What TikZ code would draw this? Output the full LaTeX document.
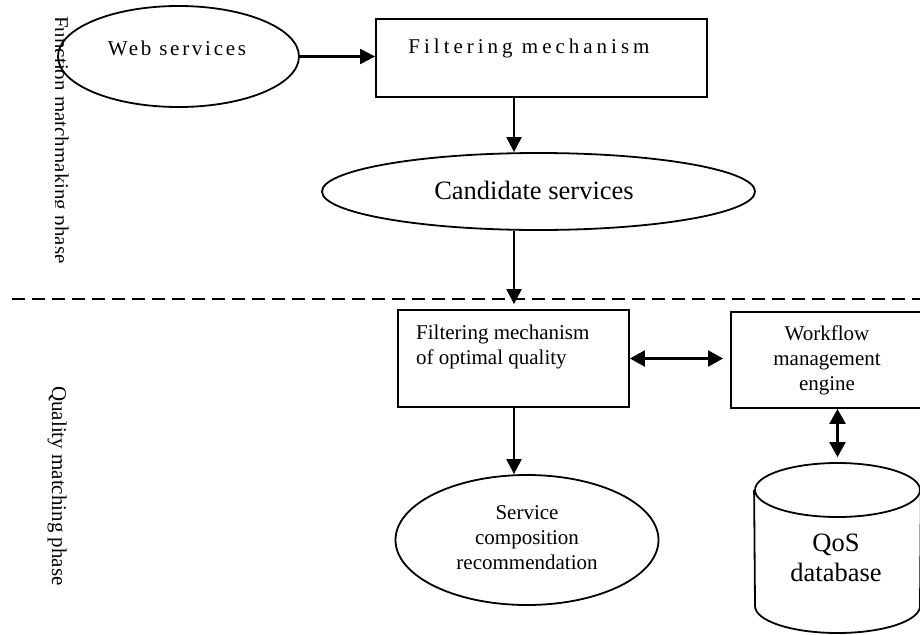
\documentclass[tikz,border=0pt]{standalone}
\usepackage{fontspec}
\setmainfont{Liberation Serif}
\newfontfamily\spacedA[LetterSpace=13]{Liberation Serif}
\newfontfamily\spacedB[LetterSpace=19]{Liberation Serif}
\usetikzlibrary{arrows.meta,shapes.geometric}

\begin{document}
\begin{tikzpicture}[x=1pt,y=-1pt,
  shapeline/.style={draw, line width=1.8pt, inner sep=0pt},
  oval/.style={shapeline, ellipse},
  boxnode/.style={shapeline, rectangle},
  flow/.style={line width=2.2pt, -{Triangle[length=15pt,width=15pt]}},
  both/.style={line width=2.2pt, {Triangle[length=15pt,width=16pt]}-{Triangle[length=15pt,width=16pt]}},
  plain/.style={font=\fontsize{21}{25}\selectfont, inner sep=0pt},
  txt/.style={plain, align=center},
  bigtxt/.style={font=\fontsize{26.5}{30}\selectfont, inner sep=0pt, align=center},
  dashline/.style={line width=2.2pt, dash pattern=on 13pt off 7pt},
]
\clip (0,0) rectangle (920,634);

% phase labels
\begin{scope}
  \clip (55,0) rectangle (120,267);
  \node[plain, rotate=-90, anchor=base west] (phaseA) at (54,16) {Function matchmaking phase};
\end{scope}
\node[plain, rotate=-90, anchor=base west] (phaseB) at (52,386) {Quality matching phase};

% function matchmaking phase
\node[oval, minimum width=241pt, minimum height=101pt] (ws) at (178.5,56.5) {};
\node[plain, font=\spacedA\fontsize{21}{25}\selectfont] (wstext) at (177,48) {Web services};

\node[boxnode, minimum width=331pt, minimum height=78pt] (fm) at (541.5,58) {};
\node[plain, font=\spacedB\fontsize{21}{25}\selectfont] (fmtext) at (529,48) {Filtering mechanism};

\node[oval, minimum width=433pt, minimum height=77pt] (cand) at (538.5,191.5) {};
\node[bigtxt] (candtext) at (534,190) {Candidate services};

% phase separator
\coordinate (dl) at (12,299);
\coordinate (dr) at (920,299);
\draw[dashline] (dl) -- (dr);

% quality matching phase
\node[boxnode, minimum width=231pt, minimum height=97pt] (fq) at (513.5,358.5) {};
\node[txt, align=left, anchor=north west] (fqtext) at (416,325) {Filtering mechanism\\of optimal quality};

\node[boxnode, minimum width=192pt, minimum height=96pt] (wf) at (827,360) {};
\node[txt] (wftext) at (827,360) {Workflow\\management\\engine};

\node[oval, minimum width=263pt, minimum height=130pt] (sc) at (527,540) {};
\node[txt] (sctext) at (527,538) {Service\\composition\\recommendation};

% QoS database cylinder
\node[oval, minimum width=165pt, minimum height=54pt] (dbcap) at (837.5,490) {};
\draw[line width=1.8pt] (dbcap.west) -- (755,606)
  .. controls (755,620.9) and (791.9,633) .. (837.5,633)
  .. controls (883.1,633) and (920,620.9) .. (920,606) -- (dbcap.east);
\node[bigtxt] (dbtext) at (836,558) {QoS\\database};

% connectors
\coordinate (ax) at (514,0);
\draw[flow] (ws.east) -- (ws.east -| fm.west);
\draw[flow] (fm.south -| ax) -- (cand.north -| ax);
\draw[flow, shorten >=5pt] (cand.south -| ax) -- (fq.north -| ax);
\draw[flow] (fq.south -| ax) -- (sc.north -| ax);
\draw[both, shorten >=7pt] (fq.east) -- (fq.east -| wf.west);
\draw[both, shorten >=5pt] (wf.south -| dbcap) -- (dbcap.north);
\end{tikzpicture}
\end{document}
